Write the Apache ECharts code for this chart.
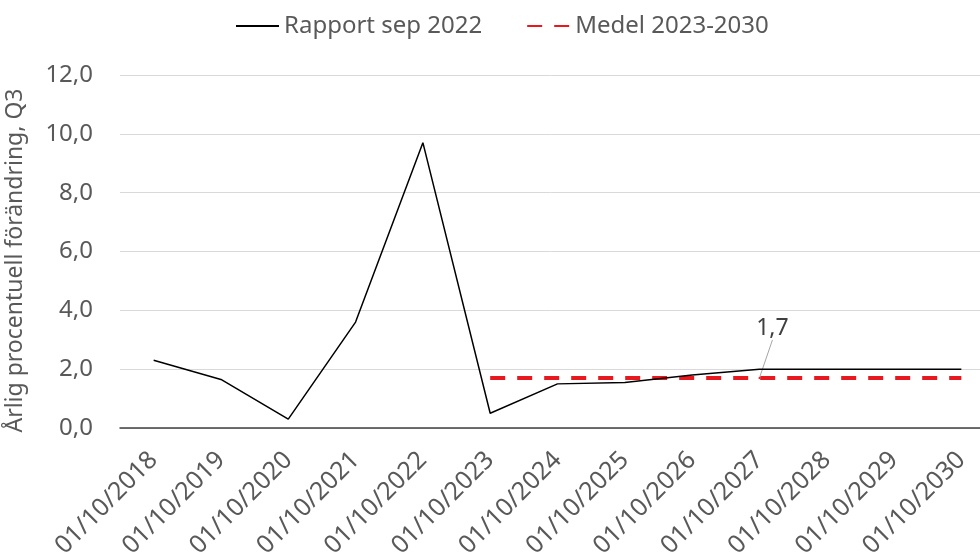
<!DOCTYPE html>
<html>
<head>
<meta charset="utf-8">
<script src="https://cdn.jsdelivr.net/npm/echarts@6/dist/echarts.min.js"></script>
<style>
  html, body { margin: 0; padding: 0; background: #fff; }
  #chart { width: 980px; height: 557px; }
</style>
</head>
<body>
<div id="chart"></div>
<script>
// Quarter dates on the category axis
const categories = [
  '01/10/2018', '01/10/2019', '01/10/2020', '01/10/2021', '01/10/2022',
  '01/10/2023', '01/10/2024', '01/10/2025', '01/10/2026', '01/10/2027',
  '01/10/2028', '01/10/2029', '01/10/2030'
];

// Annual percentage change, report Sep 2022
const rapportValues = [2.3, 1.65, 0.3, 3.6, 9.7, 0.5, 1.5, 1.55, 1.8, 2.0, 2.0, 2.0, 2.0];

// Average for 2023-2030 (only drawn over those years)
const medelValues = [null, null, null, null, null, 1.7, 1.7, 1.7, 1.7, 1.7, 1.7, 1.7, 1.7];
const medelLabelIndex = 9;

const seriesNames = ['Rapport sep 2022', 'Medel 2023-2030'];
const yAxisName = 'Årlig procentuell förändring, Q3';

const FONT = '"Noto Sans", "Open Sans", sans-serif';
const TEXT = '#595959';

const fmt = v => v.toFixed(1).replace('.', ',');

const chart = echarts.init(document.getElementById('chart'));

chart.setOption({
  animation: false,
  backgroundColor: '#ffffff',
  textStyle: { fontFamily: FONT },
  legend: {
    left: 235,
    top: 14,
    padding: 0,
    itemWidth: 43,
    itemHeight: 14,
    itemGap: 44,
    itemStyle: { opacity: 0 },
    textStyle: { fontFamily: FONT, fontSize: 24, color: TEXT },
    data: seriesNames
  },
  grid: {
    left: 120,
    width: 875,
    top: 75,
    bottom: 129,
    containLabel: false,
    outerBoundsMode: 'none'
  },
  xAxis: {
    type: 'category',
    data: categories,
    boundaryGap: true,
    axisLine: { lineStyle: { color: '#404040', width: 1.5 } },
    axisTick: { show: false },
    axisLabel: {
      rotate: 45,
      margin: 28,
      interval: 0,
      fontFamily: FONT,
      fontSize: 25,
      color: TEXT
    }
  },
  yAxis: {
    type: 'value',
    min: 0,
    max: 12,
    interval: 2,
    name: yAxisName,
    nameLocation: 'middle',
    nameGap: 93,
    nameTextStyle: { fontFamily: FONT, fontSize: 23, color: TEXT, padding: [0, 0, 0, -18] },
    axisLine: { show: false },
    axisTick: { show: false },
    axisLabel: {
      margin: 27,
      fontFamily: FONT,
      fontSize: 24,
      color: TEXT,
      formatter: fmt
    },
    splitLine: { lineStyle: { color: '#d9d9d9', width: 1 } }
  },
  series: [
    {
      name: seriesNames[0],
      type: 'line',
      data: rapportValues,
      symbol: 'none',
      z: 3,
      lineStyle: { color: '#000000', width: 1.5 },
      itemStyle: { color: '#000000' }
    },
    {
      name: seriesNames[1],
      type: 'line',
      data: medelValues.map((v, i) => i === medelLabelIndex ? {
        value: v,
        // a tiny marker so the value label has something to attach its guide line to
        symbol: 'circle',
        symbolSize: 2,
        label: {
          show: true,
          position: 'top',
          padding: [0, 0, 9, 0],
          formatter: p => fmt(p.value),
          fontFamily: FONT,
          fontSize: 23,
          color: '#404040'
        },
        labelLine: { show: true, lineStyle: { color: '#a6a6a6', width: 1 } }
      } : v),
      symbol: 'none',
      showSymbol: true,
      z: 2,
      lineStyle: { color: '#e8191e', width: 4, type: [15, 12] },
      itemStyle: { color: '#e8191e' },
      // nudge the value label up and to the right; the guide line follows it
      labelLayout: p => p.dataIndex === medelLabelIndex ? { dx: 13, dy: -23 } : {}
    }
  ]
});
</script>
</body>
</html>
